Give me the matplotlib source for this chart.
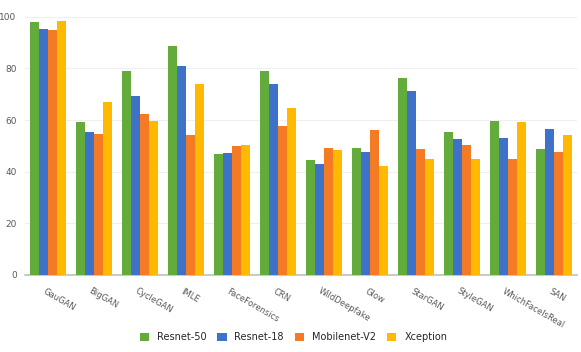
import numpy as np
import matplotlib.pyplot as plt

datasets = ["GauGAN", "BigGAN", "CycleGAN", "IMLE", "FaceForensics", "CRN",
            "WildDeepfake", "Glow", "StarGAN", "StyleGAN", "WhichFaceIsReal", "SAN"]
models = ["Resnet-50", "Resnet-18", "Mobilenet-V2", "Xception"]
resnet50 = [98.0, 59.3, 79.2, 88.8, 46.9, 79.2, 44.7, 49.0, 76.3, 55.3, 59.8, 48.7]
resnet18 = [95.3, 55.4, 69.2, 81.0, 47.4, 73.8, 43.0, 47.6, 71.2, 52.8, 53.1, 56.6]
mobilenet = [94.8, 54.6, 62.5, 54.4, 50.0, 57.6, 49.0, 56.2, 48.8, 50.5, 45.1, 47.7]
xception = [98.3, 66.9, 59.7, 73.8, 50.5, 64.7, 48.4, 42.1, 45.1, 45.1, 59.3, 54.4]
colors = ["#63ab3a", "#3d72c8", "#f47a24", "#ffb901"]

fig = plt.figure(figsize=(5.81, 3.52), dpi=100)
ax = fig.add_axes([0.043, 0.219, 0.95, 0.733])

x = np.arange(len(datasets))
w = 0.2
for k, (vals, name) in enumerate(zip([resnet50, resnet18, mobilenet, xception], models)):
    ax.bar(x + (k - 1.5) * w, vals, w, color=colors[k], label=name, zorder=3)

ax.set_xlim(-0.5, len(datasets) - 0.5)
ax.set_ylim(0, 100)
ax.set_yticks(range(0, 101, 20))
ax.yaxis.grid(True, color="#efefef", lw=0.8, zorder=0)
for s in ["top", "right", "left"]:
    ax.spines[s].set_visible(False)
ax.spines["bottom"].set_color("#bfbfbf")
ax.spines["bottom"].set_linewidth(1.2)
ax.tick_params(axis="y", length=0, labelsize=6.5, labelcolor="#595959", pad=6)
ax.tick_params(axis="x", length=0)
ax.set_xticks(x)
ax.set_xticklabels([])
for i, lab in enumerate(datasets):
    ax.text(i - 0.05, -4.5, lab, rotation=-30, rotation_mode="anchor",
            ha="left", va="top", fontsize=6, color="#595959")

fig.legend(loc="center", bbox_to_anchor=(0.505, 0.042), ncol=4, frameon=False,
           fontsize=7, handlelength=0.95, handleheight=0.95, columnspacing=1.15,
           handletextpad=0.8, labelcolor="#262626")

fig.savefig("out.png", dpi=100)
